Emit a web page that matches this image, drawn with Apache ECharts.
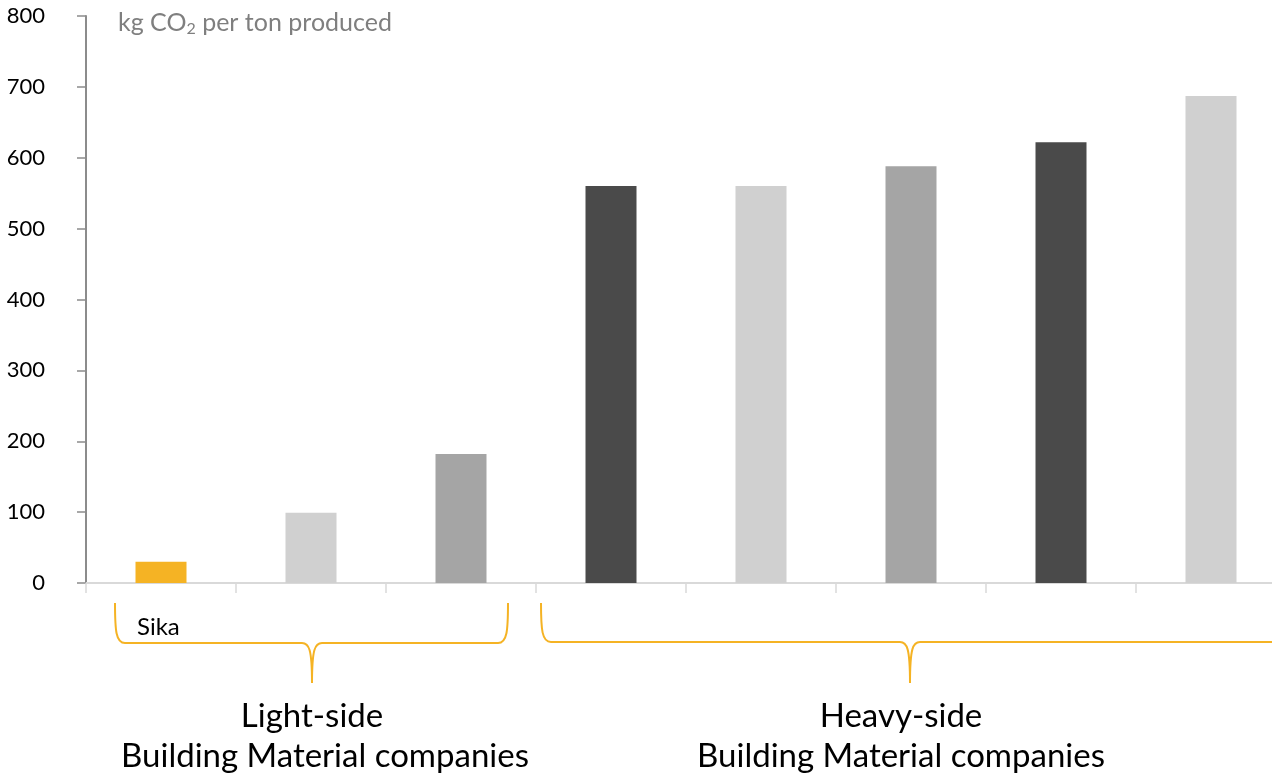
<!DOCTYPE html>
<html>
<head>
<meta charset="utf-8">
<script src="https://cdn.jsdelivr.net/npm/echarts@6/dist/echarts.min.js"></script>
<style>
html,body{margin:0;padding:0;background:#fff;overflow:hidden;width:1272px;height:775px;}
#chart{width:1286px;height:775px;}
</style>
</head>
<body>
<div id="chart"></div>
<script>
// ---- data ----
const categories = ["Sika", "Light-side B", "Light-side C", "Heavy-side A", "Heavy-side B", "Heavy-side C", "Heavy-side D", "Heavy-side E"];
const emissions = [30, 99, 182, 560, 560, 588, 622, 687];
const barColors = ["#F5B324", "#D0D0D0", "#A5A5A5", "#4A4A4A", "#D0D0D0", "#A5A5A5", "#4A4A4A", "#D0D0D0"];
const yTicks = { min: 0, max: 800, interval: 100 };
const groupLabels = [["Light-side", "Building Material companies"], ["Heavy-side", "Building Material companies"]];
const highlightLabel = "Sika";

const FONT = "Lato";
const ORANGE = "#F5B324";

const chart = echarts.init(document.getElementById('chart'), null, { renderer: 'canvas' });

function brace(x1, x2, top, mid, tipX, tipY, openRight) {
  const st = { stroke: ORANGE, lineWidth: 2, fill: null };
  const els = [
    { type: 'bezierCurve', shape: { x1: x1, y1: top, cpx1: x1, cpy1: mid - 12, cpx2: x1 + 1, cpy2: mid, x2: x1 + 10, y2: mid }, style: st },
    { type: 'line', shape: { x1: x1 + 10, y1: mid, x2: tipX - 10, y2: mid }, style: st },
    { type: 'bezierCurve', shape: { x1: tipX - 10, y1: mid, cpx1: tipX - 3, cpy1: mid, cpx2: tipX, cpy2: mid + 6, x2: tipX, y2: tipY }, style: st },
    { type: 'bezierCurve', shape: { x1: tipX, y1: tipY, cpx1: tipX, cpy1: mid + 6, cpx2: tipX + 3, cpy2: mid, x2: tipX + 10, y2: mid }, style: st }
  ];
  if (openRight) {
    els.push({ type: 'line', shape: { x1: tipX + 10, y1: mid, x2: x2, y2: mid }, style: st });
  } else {
    els.push({ type: 'line', shape: { x1: tipX + 10, y1: mid, x2: x2 - 10, y2: mid }, style: st });
    els.push({ type: 'bezierCurve', shape: { x1: x2 - 10, y1: mid, cpx1: x2 - 1, cpy1: mid, cpx2: x2, cpy2: mid - 12, x2: x2, y2: top }, style: st });
  }
  return els;
}

function label(text, x, y, size, align) {
  return { type: 'text', x: x, y: y, style: { text: text, fontSize: size, fontFamily: FONT, fill: '#000', align: align, verticalAlign: 'middle' } };
}

const option = {
  animation: false,
  grid: { left: 86, top: 16, right: 0, height: 567 },
  xAxis: {
    type: 'category',
    data: categories,
    boundaryGap: true,
    axisLine: { show: true, lineStyle: { color: '#D9D9D9', width: 2 } },
    axisTick: { show: true, length: 10, lineStyle: { color: '#D9D9D9', width: 1.5 } },
    axisLabel: { show: false }
  },
  yAxis: {
    type: 'value',
    min: yTicks.min, max: yTicks.max, interval: yTicks.interval,
    axisLine: { show: true, lineStyle: { color: '#8C8C8C', width: 2 } },
    axisTick: { show: true, length: 9, lineStyle: { color: '#8C8C8C', width: 1.5 } },
    splitLine: { show: false },
    axisLabel: { margin: 41, color: '#000', fontSize: 22, fontFamily: FONT }
  },
  series: [{
    type: 'bar',
    barWidth: 51,
    data: emissions.map((v, i) => ({ value: v, itemStyle: { color: barColors[i] } })),
    label: { show: false }
  }],
  graphic: [
    {
      type: 'text', x: 118, y: 23,
      style: {
        text: '{a|kg CO}{s|2}{a| per ton produced}',
        verticalAlign: 'middle',
        rich: {
          a: { fontSize: 25, fontFamily: FONT, fill: '#7F7F7F', color: '#7F7F7F' },
          s: { fontSize: 16, fontFamily: FONT, fill: '#7F7F7F', color: '#7F7F7F', padding: [12, 0, 0, 0] }
        }
      }
    },
    ...brace(115, 508, 603, 643, 312, 683, false),
    ...brace(541, 1290, 603, 642, 910, 683, true),
    label(highlightLabel, 137, 627, 24, 'left'),
    label(groupLabels[0][0], 312, 716, 33, 'center'),
    label(groupLabels[0][1], 325, 756, 33, 'center'),
    label(groupLabels[1][0], 901, 716, 33, 'center'),
    label(groupLabels[1][1], 901, 756, 33, 'center')
  ]
};
chart.setOption(option);
</script>
</body>
</html>
